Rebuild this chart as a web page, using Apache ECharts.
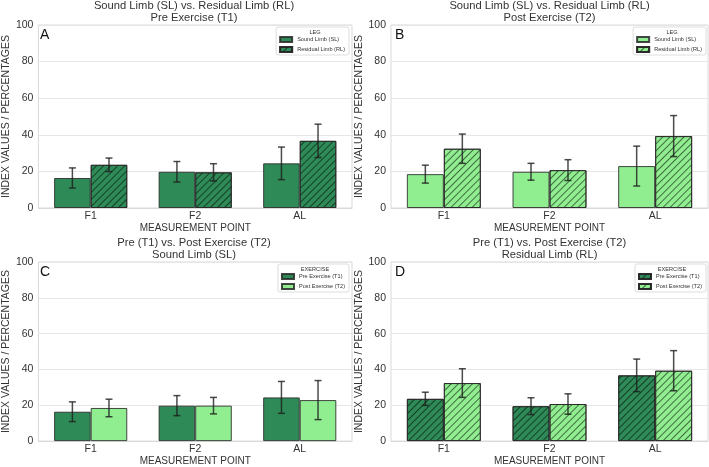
<!DOCTYPE html>
<html>
<head>
<meta charset="utf-8">
<script src="https://cdn.jsdelivr.net/npm/echarts@6/dist/echarts.min.js"></script>
<style>
  html, body { margin: 0; padding: 0; background: #fff; }
  #chart { width: 709px; height: 467px; }
</style>
</head>
<body>
<div id="chart"></div>
<script>
// values (mean, error bar half-length)
const categories = ["F1", "F2", "AL"];
const slPre = [16.4, 19.8, 24.4];
const slPreErr = [5.5, 5.6, 8.9];
const rlPre = [23.6, 19.5, 36.7];
const rlPreErr = [3.7, 4.7, 9.1];
const slPost = [18.5, 19.8, 22.9];
const slPostErr = [4.9, 4.6, 10.9];
const rlPost = [32.4, 20.7, 39.3];
const rlPostErr = [8.0, 5.7, 11.2];

const yMin = 0, yMax = 100, yStep = 20;

const DARK = "#2e8b57";
const LIGHT = "#90ee90";
const FONT = '"Liberation Sans", Arial, sans-serif';
const TXT = "#333";

const hatch = {
  symbol: "rect",
  symbolSize: 1,
  color: "rgba(0,0,0,0.55)",
  dashArrayX: [1, 0],
  dashArrayY: [0.8, 3.6],
  rotation: -Math.PI / 4
};

const panels = [
  {
    grid: { left: 36, top: 25, width: 316, height: 183 },
    title: "Sound Limb (SL) vs. Residual Limb (RL)\nPre Exercise (T1)",
    letter: "A", legendTitle: "LEG", legendRight: 360, legendTop: 27, legendMid: 315,
    bars: [
      { id: "a1", label: "Sound Limb (SL)", data: slPre, err: slPreErr, color: DARK, hatched: false },
      { id: "a2", label: "Residual Limb (RL)", data: rlPre, err: rlPreErr, color: DARK, hatched: true }
    ]
  },
  {
    grid: { left: 391, top: 25, width: 317, height: 183 },
    title: "Sound Limb (SL) vs. Residual Limb (RL)\nPost Exercise (T2)",
    letter: "B", legendTitle: "LEG", legendRight: 3, legendTop: 27, legendMid: 672,
    bars: [
      { id: "b1", label: "Sound Limb (SL)", data: slPost, err: slPostErr, color: LIGHT, hatched: false },
      { id: "b2", label: "Residual Limb (RL)", data: rlPost, err: rlPostErr, color: LIGHT, hatched: true }
    ]
  },
  {
    grid: { left: 36, top: 262, width: 316, height: 183 },
    title: "Pre (T1) vs. Post Exercise (T2)\nSound Limb (SL)",
    letter: "C", legendTitle: "EXERCISE", legendRight: 360, legendTop: 264, legendMid: 315,
    bars: [
      { id: "c1", label: "Pre Exercise (T1)", data: slPre, err: slPreErr, color: DARK, hatched: false },
      { id: "c2", label: "Post Exercise (T2)", data: slPost, err: slPostErr, color: LIGHT, hatched: false }
    ]
  },
  {
    grid: { left: 391, top: 262, width: 317, height: 183 },
    title: "Pre (T1) vs. Post Exercise (T2)\nResidual Limb (RL)",
    letter: "D", legendTitle: "EXERCISE", legendRight: 3, legendTop: 264, legendMid: 672,
    bars: [
      { id: "d1", label: "Pre Exercise (T1)", data: rlPre, err: rlPreErr, color: DARK, hatched: true },
      { id: "d2", label: "Post Exercise (T2)", data: rlPost, err: rlPostErr, color: LIGHT, hatched: true }
    ]
  }
];

const labelOf = {};
panels.forEach(p => p.bars.forEach(b => { labelOf[b.id] = b.label; }));

const grids = [], xAxes = [], yAxes = [], series = [], legends = [], graphics = [];

panels.forEach((p, pi) => {
  grids.push(Object.assign({ show: true, borderColor: "#d9d9d9", borderWidth: 1 }, p.grid));
  xAxes.push({
    type: "category", gridIndex: pi, data: categories,
    name: "MEASUREMENT POINT", nameLocation: "middle", nameGap: 12,
    nameTextStyle: { fontFamily: FONT, fontSize: 10, color: TXT },
    axisLine: { lineStyle: { color: "#d9d9d9" } },
    axisTick: { show: false },
    axisLabel: { fontFamily: FONT, fontSize: 10.5, color: TXT, margin: 3 }
  });
  yAxes.push({
    type: "value", gridIndex: pi, min: yMin, max: yMax, interval: yStep,
    name: "INDEX VALUES / PERCENTAGES", nameLocation: "middle", nameGap: 20,
    nameTextStyle: { fontFamily: FONT, fontSize: 10.5, color: TXT },
    axisLine: { show: false },
    axisTick: { show: false },
    splitLine: { lineStyle: { color: "#e6e6e6", width: 1 } },
    axisLabel: { fontFamily: FONT, fontSize: 10.5, color: TXT, margin: 5 }
  });

  p.bars.forEach(b => {
    const style = {
      color: b.color,
      borderColor: "rgba(40,40,40,0.85)",
      borderWidth: 1
    };
    if (b.hatched) style.decal = hatch;
    series.push({
      type: "bar", name: b.id, xAxisIndex: pi, yAxisIndex: pi,
      data: b.data,
      barCategoryGap: "30%", barGap: "0%",
      itemStyle: style
    });
  });

  // error bars on top of each bar, placed with the axis scale
  p.bars.forEach((b, bi) => {
    const frac = bi === 0 ? -0.175 : 0.175;
    series.push({
      type: "custom", xAxisIndex: pi, yAxisIndex: pi, z: 10,
      data: b.data.map((v, i) => [i, v, b.err[i]]),
      encode: { x: 0, y: 1 },
      renderItem: (params, api) => {
        const i = api.value(0), m = api.value(1), e = api.value(2);
        const band = api.size([1, 0])[0];
        const hi = api.coord([i, m + e]);
        const lo = api.coord([i, m - e]);
        const cx = hi[0] + frac * band;
        const cap = 3.5;
        const st = { stroke: "rgba(30,30,30,0.8)", lineWidth: 1.5 };
        return {
          type: "group",
          children: [
            { type: "line", shape: { x1: cx, y1: hi[1], x2: cx, y2: lo[1] }, style: st },
            { type: "line", shape: { x1: cx - cap, y1: hi[1], x2: cx + cap, y2: hi[1] }, style: st },
            { type: "line", shape: { x1: cx - cap, y1: lo[1], x2: cx + cap, y2: lo[1] }, style: st }
          ]
        };
      }
    });
  });

  legends.push({
    data: p.bars.map(b => b.id),
    formatter: name => labelOf[name],
    orient: "vertical", right: p.legendRight, top: p.legendTop,
    icon: "rect", itemWidth: 12, itemHeight: 5, itemGap: 3,
    padding: [9, 4, 2, 3],
    borderColor: "#dddddd", borderWidth: 1, borderRadius: 2,
    backgroundColor: "#fff",
    selectedMode: false,
    textStyle: { fontFamily: FONT, fontSize: 5.6, color: TXT }
  });

  const cx = p.grid.left + p.grid.width / 2;
  graphics.push({
    type: "text", x: cx, y: p.grid.top - 13.5,
    style: { text: p.title, font: "11.2px " + FONT, fill: TXT, align: "center", verticalAlign: "middle", lineHeight: 12 }
  });
  graphics.push({
    type: "text", x: p.grid.left + 4, y: p.grid.top + 10,
    style: { text: p.letter, font: "14px " + FONT, fill: "#111", align: "left", verticalAlign: "middle" }
  });
  graphics.push({
    type: "text", x: p.legendMid, y: p.legendTop + 5, z: 100,
    style: { text: p.legendTitle, font: "5.6px " + FONT, fill: TXT, align: "center", verticalAlign: "middle" }
  });
});

const chart = echarts.init(document.getElementById("chart"));
chart.setOption({
  backgroundColor: "#fff",
  animation: false,
  grid: grids,
  xAxis: xAxes,
  yAxis: yAxes,
  legend: legends,
  series: series,
  graphic: graphics
});
</script>
</body>
</html>
